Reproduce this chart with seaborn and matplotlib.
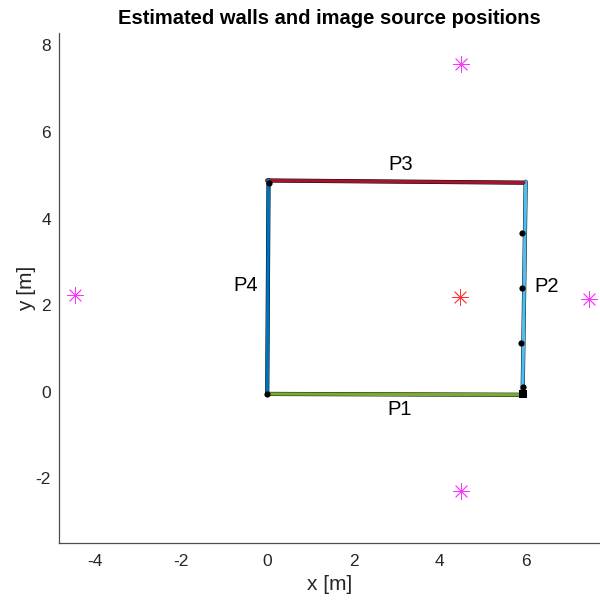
import matplotlib
matplotlib.use("Agg")
import matplotlib.pyplot as plt
import seaborn as sns
import pandas as pd

# ---- data ----
wall_names = ["P1", "P2", "P3", "P4"]
wall_x0 = [0.00, 5.92, 0.00, 0.00]
wall_y0 = [-0.05, -0.06, 4.88, -0.04]
wall_x1 = [5.92, 5.99, 5.95, 0.03]
wall_y1 = [-0.07, 4.85, 4.83, 4.89]
wall_colors = ["#77AC30", "#4DBEEE", "#A2142F", "#0072BD"]

label_x = [3.08, 6.48, 3.10, -0.50]
label_y = [-0.42, 2.44, 5.26, 2.46]

source_x = [4.47]
source_y = [2.18]

image_x = [4.48, 7.46, 4.48, -4.46]
image_y = [-2.29, 2.15, 7.56, 2.23]

# black estimate points on walls
pt_x = [5.90, 5.90, 5.89, 5.93, 0.00, 0.05]
pt_y = [3.66, 2.39, 1.13, 0.12, -0.05, 4.83]
corner_x = [5.93]
corner_y = [-0.06]

xticks = [-4, -2, 0, 2, 4, 6]
yticks = [-2, 0, 2, 4, 6, 8]

# ---- styling ----
sns.set_style("white")
plt.rcParams["font.family"] = ["Liberation Sans", "DejaVu Sans"]

fig = plt.figure(figsize=(6, 6.01), dpi=100)
ax = fig.add_axes([0.0988, 0.096, 0.901, 0.8486])

rows = []
for n, x0, y0, x1, y1 in zip(wall_names, wall_x0, wall_y0, wall_x1, wall_y1):
    rows.append({"wall": n, "x": x0, "y": y0, "o": 0})
    rows.append({"wall": n, "x": x1, "y": y1, "o": 1})
walls = pd.DataFrame(rows)

# black underlay (estimated wall points)
sns.lineplot(data=walls, x="x", y="y", units="wall", estimator=None, sort=False,
             color="black", linewidth=3.0, ax=ax, legend=False)
for n, c in zip(wall_names, wall_colors):
    sns.lineplot(data=walls[walls.wall == n], x="x", y="y", estimator=None,
                 sort=False, color=c, linewidth=2.4, ax=ax, legend=False)

sns.scatterplot(x=pt_x, y=pt_y, color="black", s=20, marker="o",
                edgecolor="black", linewidth=0, ax=ax, zorder=4)
sns.scatterplot(x=corner_x, y=corner_y, color="black", s=26, marker="s",
                edgecolor="black", linewidth=0, ax=ax, zorder=4)

sns.scatterplot(x=image_x, y=image_y, color="#FF33FF", marker=(8, 2, 0), s=130,
                linewidth=0.6, ax=ax, zorder=5)
sns.scatterplot(x=source_x, y=source_y, color="#FF3333", marker=(8, 2, 0), s=130,
                linewidth=0.6, ax=ax, zorder=5)

for n, lx, ly in zip(wall_names, label_x, label_y):
    ax.text(lx, ly, n, fontsize=14.5, ha="center", va="center", color="black")

ax.set_xlim(-4.82, 7.71)
ax.set_ylim(-3.5, 8.28)
ax.set_xticks(xticks)
ax.set_yticks(yticks)
ax.set_xticklabels([str(t) for t in xticks])
ax.set_yticklabels([str(t) for t in yticks])

for s in ["top", "right"]:
    ax.spines[s].set_visible(False)
for s in ["left", "bottom"]:
    ax.spines[s].set_color("#4d4d4d")
    ax.spines[s].set_linewidth(0.9)

ax.tick_params(direction="in", length=4, width=0.8, color="#4d4d4d",
               labelsize=12.5, labelcolor="#262626")
ax.tick_params(axis="x", pad=8)
ax.tick_params(axis="y", pad=6)

ax.set_xlabel("x [m]", fontsize=15, color="#262626", labelpad=4)
ax.set_ylabel("y [m]", fontsize=15, color="#262626", labelpad=0)
ax.set_title("Estimated walls and image source positions", fontsize=14.5,
             fontweight="bold", pad=7, color="black")

fig.savefig("out.png", dpi=100)
